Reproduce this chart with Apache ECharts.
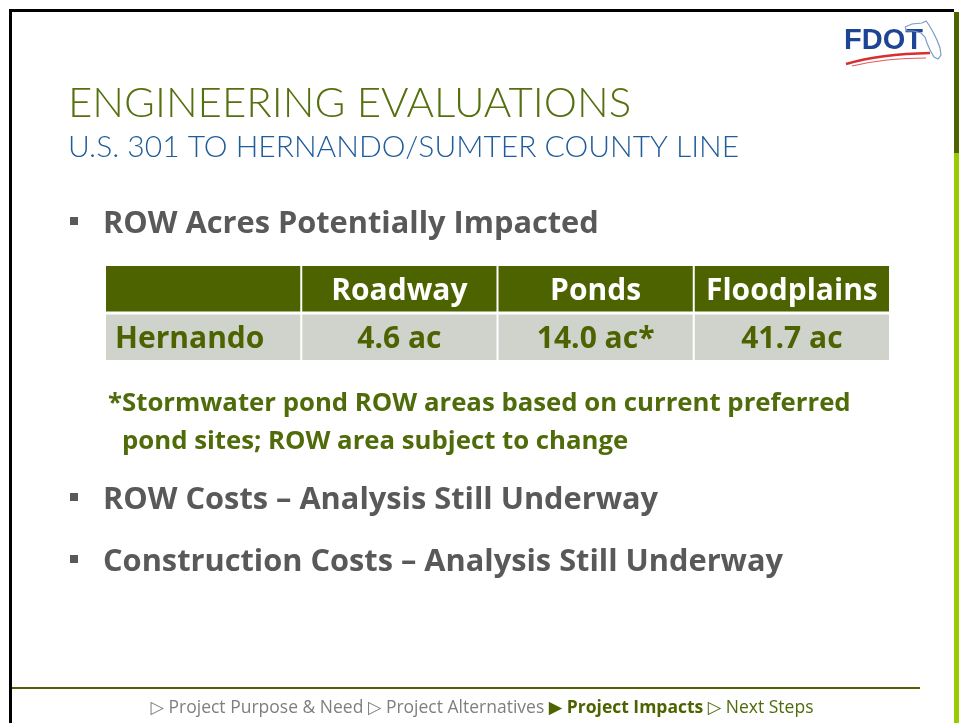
<!DOCTYPE html>
<html>
<head>
<meta charset="utf-8">
<script src="https://cdn.jsdelivr.net/npm/echarts@6/dist/echarts.min.js"></script>
<style>
  html, body { margin: 0; padding: 0; background: #fff; }
  #main { width: 959px; height: 723px; }
</style>
</head>
<body>
<div id="main"></div>
<script>
// table data
const columns = ['', 'Roadway', 'Ponds', 'Floodplains'];
const rows = ['header', 'Hernando'];
const county = 'Hernando';
const acres = [4.6, 14.0, 41.7];
const acreNotes = ['', '*', ''];

const title = 'ENGINEERING EVALUATIONS';
const subtitle = 'U.S. 301 TO HERNANDO/SUMTER COUNTY LINE';
const bullets = ['ROW Acres Potentially Impacted', 'ROW Costs – Analysis Still Underway', 'Construction Costs – Analysis Still Underway'];
const footnote = ['*Stormwater pond ROW areas based on current preferred', 'pond sites; ROW area subject to change'];

const OLIVE = '#4d6300';
const THIN = 'Lato, "DejaVu Sans", sans-serif';
const FONT = '"Open Sans", "DejaVu Sans", sans-serif';

// cells: [col, row, text, kind]
const cells = [];
columns.forEach((c, i) => cells.push([i, 0, c, 'head']));
cells.push([0, 1, county, 'name']);
acres.forEach((v, i) => cells.push([i + 1, 1, v.toFixed(1) + ' ac' + acreNotes[i], 'val']));

var myChart = echarts.init(document.getElementById('main'), null, { renderer: 'canvas', width: 959, height: 723 });

// bullet line: square + text
function bullet(text, y) {
    return [
        { type: 'rect', shape: { x: 70, y: y - 5, width: 8, height: 8 }, style: { fill: '#595959' } },
        { type: 'text', x: 103, y: y, scaleX: 1.025, style: { text: text, x: 0, y: 2, verticalAlign: 'middle',
            font: 'bold 30px ' + FONT, fill: '#595959' } }
    ];
}

const option = {
    animation: false,
    backgroundColor: '#fff',
    grid: { left: 105, top: 265, width: 785, height: 97 },
    xAxis: { type: 'category', data: columns, show: false },
    yAxis: { type: 'category', data: rows, inverse: true, show: false },
    series: [{
        type: 'custom',
        silent: true,
        data: cells,
        renderItem: (params, api) => {
            const cell = cells[params.dataIndex];
            const c = api.coord([api.value(0), api.value(1)]);
            const s = api.size([1, 1]);
            const x0 = c[0] - s[0] / 2 + 1;
            const y0 = c[1] - s[1] / 2 + 1;
            const head = cell[3] === 'head';
            const left = cell[3] === 'name';
            return {
                type: 'group',
                children: [
                    { type: 'rect', shape: { x: x0, y: y0, width: s[0] - 2, height: s[1] - 3 },
                      style: { fill: head ? OLIVE : '#d0d3cc' } },
                    { type: 'text', style: {
                        text: cell[2],
                        x: left ? x0 + 9 : c[0], y: c[1] + 2,
                        align: left ? 'left' : 'center', verticalAlign: 'middle',
                        fill: head ? '#fff' : OLIVE,
                        font: 'bold 30px ' + FONT } }
                ]
            };
        }
    }],
    graphic: [
        // frame
        { type: 'rect', shape: { x: 9, y: 9, width: 3, height: 714 }, style: { fill: '#000' } },
        { type: 'rect', shape: { x: 9, y: 9, width: 945, height: 3 }, style: { fill: '#000' } },
        { type: 'rect', shape: { x: 954, y: 12, width: 5, height: 141 }, style: { fill: OLIVE } },
        { type: 'rect', shape: { x: 954, y: 153, width: 5, height: 570 }, style: { fill: '#99cc00' } },
        { type: 'rect', shape: { x: 12, y: 687, width: 908, height: 2 }, style: { fill: OLIVE } },
        // logo
        { type: 'text', style: { text: 'FDOT', x: 844, y: 41, verticalAlign: 'middle',
            font: 'bold 29px "Liberation Sans", Arial, sans-serif', fill: '#1d4594' } },
        { type: 'polyline', shape: { points: [[905, 27], [912, 24], [922, 23], [926, 21], [929, 25], [933, 32], [937, 40], [940, 48], [941, 55], [938, 59], [934, 57], [930, 50], [927, 43], [925, 37], [921, 33], [914, 31], [907, 31], [905, 27]] },
          style: { stroke: '#7d9ac8', lineWidth: 1.2, fill: 'none' } },
        { type: 'bezierCurve', shape: { x1: 846, y1: 64, cpx1: 880, cpy1: 54, x2: 930, y2: 53 },
          style: { stroke: '#d62f2f', lineWidth: 2.5, fill: 'none' } },
        { type: 'bezierCurve', shape: { x1: 852, y1: 66, cpx1: 885, cpy1: 58, x2: 926, y2: 58 },
          style: { stroke: '#e25a5a', lineWidth: 1.2, fill: 'none' } },
        // titles
        { type: 'text', style: { text: title, x: 68, y: 103, verticalAlign: 'middle',
            font: '300 42px ' + THIN, fill: '#56700f' } },
        { type: 'text', style: { text: subtitle, x: 68, y: 147, verticalAlign: 'middle',
            font: '300 30px ' + THIN, fill: '#1f5c99' } },
        ...bullet(bullets[0], 222),
        // footnote under the table
        { type: 'text', x: 108, y: 404, scaleX: 1.03, style: { text: footnote[0], x: 0, y: 0, verticalAlign: 'middle',
            font: 'bold 25px ' + FONT, fill: '#4f6b0a' } },
        { type: 'text', x: 122, y: 442, scaleX: 1.03, style: { text: footnote[1], x: 0, y: 0, verticalAlign: 'middle',
            font: 'bold 25px ' + FONT, fill: '#4f6b0a' } },
        ...bullet(bullets[1], 498),
        ...bullet(bullets[2], 560),
        // footer navigation
        { type: 'text', style: {
            text: '{g|▷ Project Purpose & Need ▷ Project Alternatives }{b|▶ Project Impacts}{n| ▷ Next Steps}',
            x: 482, y: 708, align: 'center', verticalAlign: 'middle',
            rich: {
                g: { font: '17.5px ' + FONT, fill: '#7f7f7f' },
                b: { font: 'bold 17.5px ' + FONT, fill: OLIVE },
                n: { font: '17.5px ' + FONT, fill: '#4f6b0a' }
            } } }
    ]
};

option && myChart.setOption(option);
</script>
</body>
</html>
